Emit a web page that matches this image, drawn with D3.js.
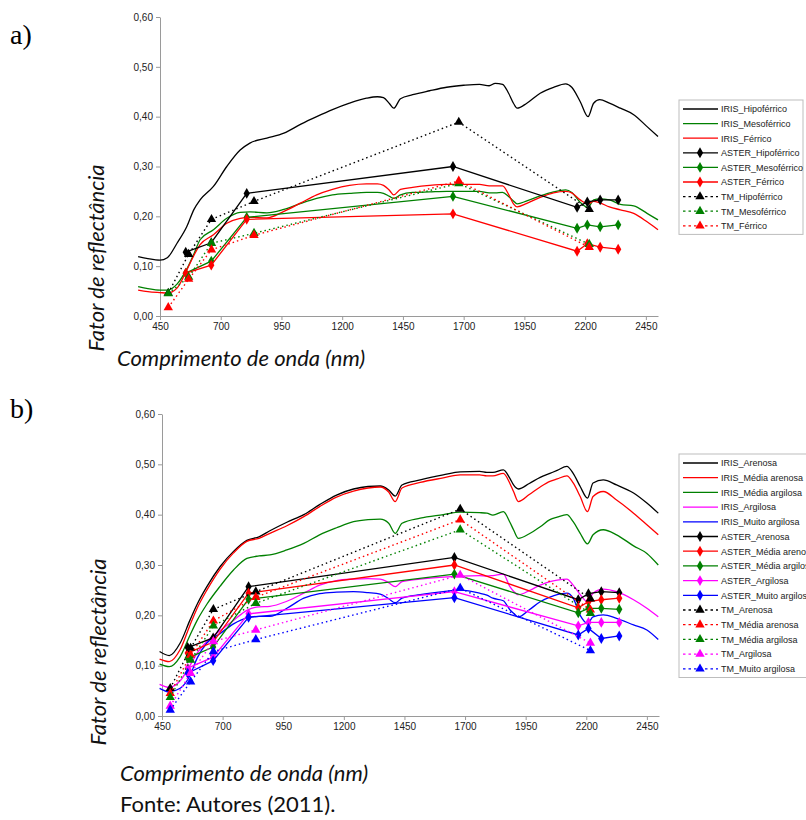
<!DOCTYPE html>
<html>
<head>
<meta charset="utf-8">
<script src="https://cdn.jsdelivr.net/npm/d3@7"></script>
<style>
  body { margin: 0; background: #fff; }
  .tick text { font-family: "Liberation Sans", Arial, sans-serif; font-size: 10px; fill: #222; }
  .domain, .tick line { stroke: #9a9a9a; }
  .ttl { font-family: Lato, "Open Sans", sans-serif; font-style: italic; font-size: 22px; fill: #111; }
  .lg { font-family: "Liberation Sans", Arial, sans-serif; font-size: 9px; fill: #222; }
</style>
</head>
<body>
<svg width="806" height="820"></svg>
<script>
// ---- common data ----
var xTicks = [450, 700, 950, 1200, 1450, 1700, 1950, 2200, 2450];
var yTicks = [0, 0.1, 0.2, 0.3, 0.4, 0.5, 0.6];
var asterWl = [556, 661, 807, 1656, 2167, 2209, 2262, 2336];
var tmWl = [484, 568, 662, 837, 1680, 2217];

// ---- panel a ----
var wlA = [360, 400, 450, 480, 520, 560, 590, 615, 670, 725, 780, 820, 890, 960, 1030, 1095, 1160, 1230, 1300, 1345, 1370, 1395, 1412, 1440, 1490, 1560, 1630, 1700, 1765, 1805, 1830, 1860, 1885, 1905, 1920, 1960, 2015, 2070, 2120, 2145, 2180, 2212, 2235, 2260, 2300, 2345, 2400, 2455, 2500];
var irisA_hipo = [0.119, 0.115, 0.112, 0.117, 0.146, 0.179, 0.214, 0.233, 0.260, 0.300, 0.333, 0.347, 0.357, 0.367, 0.385, 0.400, 0.414, 0.427, 0.437, 0.440, 0.438, 0.426, 0.417, 0.436, 0.444, 0.452, 0.459, 0.463, 0.465, 0.462, 0.467, 0.465, 0.447, 0.427, 0.417, 0.427, 0.447, 0.459, 0.466, 0.459, 0.430, 0.400, 0.427, 0.434, 0.427, 0.417, 0.404, 0.380, 0.360];
var irisA_meso = [0.059, 0.055, 0.052, 0.052, 0.064, 0.094, 0.125, 0.153, 0.173, 0.196, 0.208, 0.209, 0.207, 0.214, 0.226, 0.236, 0.243, 0.246, 0.248, 0.248, 0.246, 0.240, 0.236, 0.243, 0.248, 0.249, 0.250, 0.250, 0.250, 0.247, 0.247, 0.248, 0.240, 0.231, 0.225, 0.231, 0.241, 0.249, 0.253, 0.248, 0.228, 0.218, 0.233, 0.235, 0.233, 0.224, 0.221, 0.206, 0.193];
var irisA_ferr = [0.052, 0.049, 0.047, 0.046, 0.056, 0.092, 0.122, 0.143, 0.163, 0.186, 0.196, 0.198, 0.197, 0.210, 0.227, 0.243, 0.254, 0.262, 0.265, 0.265, 0.262, 0.252, 0.243, 0.254, 0.258, 0.262, 0.264, 0.264, 0.264, 0.261, 0.261, 0.261, 0.244, 0.225, 0.219, 0.226, 0.238, 0.247, 0.250, 0.247, 0.233, 0.225, 0.230, 0.227, 0.219, 0.213, 0.206, 0.189, 0.173];
var asterA_hipo = [0.128, 0.147, 0.246, 0.300, 0.218, 0.229, 0.233, 0.233];
var asterA_meso = [0.086, 0.110, 0.198, 0.240, 0.176, 0.183, 0.179, 0.183];
var asterA_ferr = [0.086, 0.102, 0.194, 0.205, 0.130, 0.145, 0.138, 0.134];
var tmA_hipo = [0.046, 0.124, 0.194, 0.230, 0.389, 0.214];
var tmA_meso = [0.045, 0.078, 0.146, 0.166, 0.266, 0.144];
var tmA_ferr = [0.017, 0.074, 0.133, 0.162, 0.271, 0.138];
var namesA = ["Hipoférrico", "Mesoférrico", "Férrico"];
var colorsA = ["#000000", "#008000", "#ff0000"];

// ---- panel b ----
var wlB = [440, 480, 525, 565, 595, 635, 690, 745, 800, 850, 895, 965, 1035, 1100, 1170, 1240, 1300, 1350, 1385, 1412, 1440, 1515, 1610, 1680, 1760, 1790, 1815, 1858, 1885, 1900, 1920, 1965, 2010, 2050, 2080, 2120, 2146, 2175, 2205, 2228, 2270, 2325, 2395, 2450, 2497];
var irisB_aren = [0.128, 0.120, 0.145, 0.190, 0.222, 0.257, 0.297, 0.327, 0.349, 0.356, 0.368, 0.385, 0.400, 0.420, 0.439, 0.451, 0.456, 0.457, 0.449, 0.437, 0.459, 0.469, 0.479, 0.485, 0.486, 0.484, 0.484, 0.489, 0.472, 0.459, 0.451, 0.462, 0.474, 0.482, 0.488, 0.496, 0.482, 0.456, 0.433, 0.463, 0.469, 0.459, 0.443, 0.423, 0.403];
var irisB_mare = [0.113, 0.108, 0.132, 0.180, 0.214, 0.250, 0.292, 0.324, 0.347, 0.353, 0.363, 0.378, 0.396, 0.416, 0.435, 0.447, 0.453, 0.455, 0.445, 0.426, 0.453, 0.464, 0.473, 0.479, 0.479, 0.477, 0.477, 0.482, 0.462, 0.446, 0.426, 0.440, 0.455, 0.466, 0.471, 0.477, 0.463, 0.436, 0.406, 0.436, 0.446, 0.429, 0.403, 0.380, 0.360];
var irisB_marg = [0.103, 0.098, 0.118, 0.160, 0.190, 0.222, 0.258, 0.290, 0.313, 0.318, 0.320, 0.330, 0.343, 0.360, 0.374, 0.386, 0.390, 0.391, 0.383, 0.363, 0.383, 0.393, 0.400, 0.405, 0.404, 0.403, 0.399, 0.406, 0.385, 0.370, 0.353, 0.362, 0.376, 0.390, 0.395, 0.400, 0.386, 0.363, 0.342, 0.360, 0.370, 0.360, 0.338, 0.323, 0.300];
var irisB_argi = [0.063, 0.057, 0.070, 0.100, 0.125, 0.148, 0.170, 0.190, 0.210, 0.217, 0.218, 0.228, 0.244, 0.260, 0.269, 0.272, 0.273, 0.272, 0.265, 0.257, 0.267, 0.272, 0.276, 0.278, 0.279, 0.278, 0.279, 0.282, 0.257, 0.248, 0.241, 0.249, 0.260, 0.267, 0.270, 0.272, 0.260, 0.241, 0.227, 0.244, 0.252, 0.247, 0.231, 0.214, 0.197];
var irisB_muit = [0.055, 0.048, 0.055, 0.080, 0.115, 0.145, 0.164, 0.183, 0.195, 0.198, 0.198, 0.214, 0.234, 0.243, 0.246, 0.247, 0.245, 0.242, 0.233, 0.225, 0.234, 0.241, 0.247, 0.250, 0.244, 0.240, 0.234, 0.229, 0.211, 0.204, 0.197, 0.211, 0.227, 0.236, 0.241, 0.244, 0.234, 0.200, 0.184, 0.197, 0.201, 0.194, 0.181, 0.171, 0.152];
var asterB_aren = [0.136, 0.155, 0.257, 0.315, 0.231, 0.243, 0.247, 0.245];
var asterB_mare = [0.125, 0.147, 0.244, 0.300, 0.215, 0.227, 0.231, 0.234];
var asterB_marg = [0.115, 0.137, 0.232, 0.282, 0.205, 0.214, 0.214, 0.212];
var asterB_argi = [0.095, 0.117, 0.203, 0.247, 0.179, 0.186, 0.186, 0.186];
var asterB_muit = [0.085, 0.110, 0.196, 0.235, 0.161, 0.174, 0.154, 0.159];
var tmB_aren = [0.055, 0.135, 0.212, 0.247, 0.411, 0.233];
var tmB_mare = [0.045, 0.121, 0.189, 0.236, 0.390, 0.211];
var tmB_marg = [0.037, 0.111, 0.179, 0.224, 0.370, 0.204];
var tmB_argi = [0.020, 0.085, 0.148, 0.171, 0.280, 0.145];
var tmB_muit = [0.012, 0.068, 0.128, 0.152, 0.254, 0.130];
var namesB = ["Arenosa", "Média arenosa", "Média argilosa", "Argilosa", "Muito argilosa"];
var colorsB = ["#000000", "#ff0000", "#008000", "#ff00ff", "#0000ff"];

var svg = d3.select("svg");

function drawPanel(p) {
  var x = d3.scaleLinear().domain([450, 2500]).range([p.left, p.right]);
  var y = d3.scaleLinear().domain([0, 0.6]).range([p.bottom, p.top]);
  var g = svg.append("g");

  g.append("g")
    .attr("transform", "translate(0," + p.bottom + ")")
    .call(d3.axisBottom(x).tickValues(xTicks).tickSize(4).tickSizeOuter(0).tickFormat(d3.format("d")));
  g.append("g")
    .attr("transform", "translate(" + p.left + ",0)")
    .call(d3.axisLeft(y).tickValues(yTicks).tickSize(4).tickSizeOuter(0)
      .tickFormat(function(d) { return d.toFixed(2).replace(".", ","); }));

  var smooth = d3.line().curve(d3.curveMonotoneX)
    .x(function(d) { return x(d[0]); }).y(function(d) { return y(d[1]); });
  var straight = d3.line()
    .x(function(d) { return x(d[0]); }).y(function(d) { return y(d[1]); });
  var diamond = d3.symbol().type(d3.symbolDiamond).size(34);
  var tri = d3.symbol().type(d3.symbolTriangle).size(38);

  p.iris.forEach(function(vals, i) {
    g.append("path").attr("d", smooth(d3.zip(p.wl, vals)))
      .attr("fill", "none").attr("stroke", p.colors[i]).attr("stroke-width", 1.3);
  });
  p.aster.forEach(function(vals, i) {
    var pts = d3.zip(asterWl, vals);
    g.append("path").attr("d", straight(pts))
      .attr("fill", "none").attr("stroke", p.colors[i]).attr("stroke-width", 1.3);
    g.selectAll(null).data(pts).enter().append("path")
      .attr("d", diamond).attr("fill", p.colors[i])
      .attr("transform", function(d) { return "translate(" + x(d[0]) + "," + y(d[1]) + ")"; });
  });
  p.tm.forEach(function(vals, i) {
    var pts = d3.zip(tmWl, vals);
    g.append("path").attr("d", straight(pts))
      .attr("fill", "none").attr("stroke", p.colors[i]).attr("stroke-width", 1.4)
      .attr("stroke-dasharray", "1.5,3");
    g.selectAll(null).data(pts).enter().append("path")
      .attr("d", tri).attr("fill", p.colors[i])
      .attr("transform", function(d) { return "translate(" + x(d[0]) + "," + y(d[1]) + ")"; });
  });

  // legend
  var rows = [];
  p.names.forEach(function(n, i) { rows.push({ t: "IRIS_" + n, c: p.colors[i], k: "iris" }); });
  p.names.forEach(function(n, i) { rows.push({ t: "ASTER_" + n, c: p.colors[i], k: "aster" }); });
  p.names.forEach(function(n, i) { rows.push({ t: "TM_" + n, c: p.colors[i], k: "tm" }); });
  var lg = g.append("g");
  lg.append("rect").attr("x", p.lgX).attr("y", p.lgY)
    .attr("width", p.lgW).attr("height", rows.length * p.lgStep + 3)
    .attr("fill", "#fff").attr("stroke", "#bdbdbd");
  rows.forEach(function(r, i) {
    var cy = p.lgY + 9 + i * p.lgStep;
    var l = lg.append("line").attr("x1", p.lgX + 4).attr("x2", p.lgX + 39)
      .attr("y1", cy).attr("y2", cy).attr("stroke", r.c).attr("stroke-width", 1.3);
    if (r.k === "tm") l.attr("stroke-dasharray", "2.5,3");
    if (r.k === "aster") lg.append("path").attr("d", diamond)
      .attr("transform", "translate(" + (p.lgX + 21) + "," + cy + ")").attr("fill", r.c);
    if (r.k === "tm") lg.append("path").attr("d", tri)
      .attr("transform", "translate(" + (p.lgX + 21) + "," + cy + ")").attr("fill", r.c);
    lg.append("text").attr("class", "lg").attr("x", p.lgX + 42).attr("y", cy + 3.3).text(r.t);
  });

  // titles
  svg.append("text").attr("class", "ttl")
    .attr("transform", "translate(" + p.yTitleX + "," + p.yTitleY + ") rotate(-90)")
    .attr("text-anchor", "middle").text("Fator de reflectância");
  svg.append("text").attr("class", "ttl").attr("x", p.xTitleX).attr("y", p.xTitleY)
    .text("Comprimento de onda (nm)");
  svg.append("text").attr("x", 10).attr("y", p.tagY)
    .style("font-family", "'Liberation Serif', serif").style("font-size", "28px")
    .text(p.tag);
}

drawPanel({
  left: 160, right: 658, top: 17, bottom: 316,
  wl: wlA, iris: [irisA_hipo, irisA_meso, irisA_ferr],
  aster: [asterA_hipo, asterA_meso, asterA_ferr],
  tm: [tmA_hipo, tmA_meso, tmA_ferr],
  names: namesA, colors: colorsA,
  lgX: 679, lgY: 100, lgW: 124, lgStep: 14.6,
  yTitleX: 104, yTitleY: 258, xTitleX: 117, xTitleY: 366, tag: "a)", tagY: 44
});
drawPanel({
  left: 162, right: 659, top: 414, bottom: 716,
  wl: wlB, iris: [irisB_aren, irisB_mare, irisB_marg, irisB_argi, irisB_muit],
  aster: [asterB_aren, asterB_mare, asterB_marg, asterB_argi, asterB_muit],
  tm: [tmB_aren, tmB_mare, tmB_marg, tmB_argi, tmB_muit],
  names: namesB, colors: colorsB,
  lgX: 679, lgY: 454, lgW: 150, lgStep: 14.7,
  yTitleX: 106, yTitleY: 652, xTitleX: 120, xTitleY: 781, tag: "b)", tagY: 418
});

svg.append("text").attr("x", 120).attr("y", 812)
  .style("font-family", "Lato, sans-serif").style("font-size", "22px").style("fill", "#111")
  .text("Fonte: Autores (2011).");
</script>
</body>
</html>
